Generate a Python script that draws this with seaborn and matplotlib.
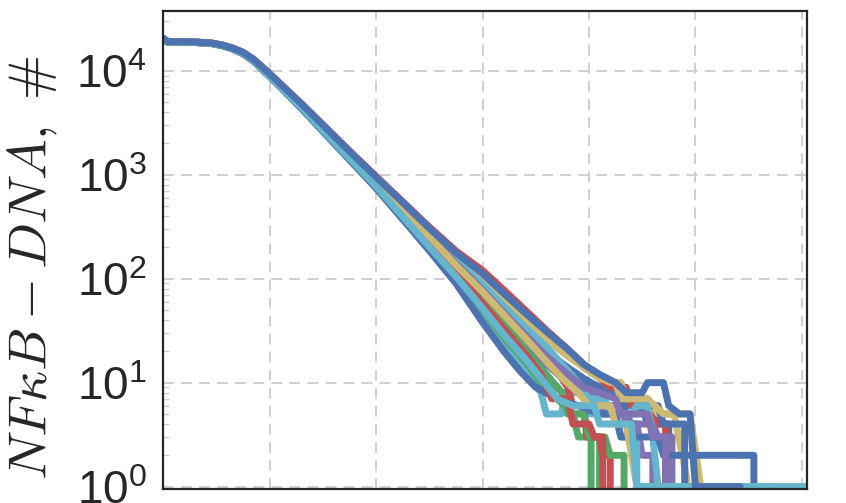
import matplotlib
matplotlib.use("Agg")
import matplotlib.pyplot as plt
import matplotlib.ticker as ticker
import seaborn as sns
import pandas as pd

# shared time points for the smooth (high count) part of every run
t_head = [0.0, 0.04, 0.3, 0.45, 0.55, 0.65, 0.75, 0.85, 1.0, 1.15, 1.3, 1.5, 1.75, 2.0, 2.25, 2.5]

# counts per run on t_head
heads = [
    [20500, 19100, 18800, 18400, 17640, 16460, 14880, 12690, 9190, 6540, 4650, 2890, 1600, 886, 486, 266],
    [20300, 18900, 18700, 18300, 17530, 16290, 14640, 12430, 8910, 6280, 4410, 2690, 1460, 782, 403, 208],
    [20400, 19000, 18900, 18500, 17710, 16570, 15050, 12860, 9390, 6720, 4810, 3030, 1700, 964, 551, 314],
    [20400, 19000, 18800, 18400, 17580, 16360, 14750, 12540, 9040, 6390, 4520, 2770, 1520, 827, 438, 232],
    [20500, 19100, 18900, 18450, 17660, 16490, 14940, 12750, 9260, 6600, 4700, 2940, 1630, 911, 507, 281],
    [20300, 18900, 18700, 18300, 17490, 16230, 14560, 12340, 8820, 6190, 4340, 2620, 1410, 750, 379, 191],
    [20400, 19000, 18800, 18400, 17610, 16420, 14830, 12630, 9130, 6480, 4600, 2840, 1570, 862, 467, 252],
    [20300, 18900, 18700, 18300, 17500, 16250, 14580, 12370, 8850, 6220, 4360, 2640, 1430, 761, 387, 197],
    [20400, 19000, 18800, 18400, 17620, 16440, 14850, 12660, 9160, 6510, 4620, 2870, 1580, 874, 476, 259],
    [20400, 19000, 18800, 18400, 17600, 16400, 14800, 12600, 9100, 6450, 4570, 2820, 1550, 850, 457, 245],
    [20500, 19100, 18900, 18500, 17690, 16530, 15000, 12800, 9320, 6660, 4760, 2980, 1670, 937, 529, 297],
    [20400, 19000, 18850, 18450, 17650, 16480, 14910, 12720, 9230, 6570, 4680, 2910, 1620, 898, 496, 274],
    [20300, 18900, 18700, 18300, 17480, 16210, 14530, 12310, 8790, 6160, 4310, 2600, 1390, 740, 372, 186],
    [20400, 19000, 18800, 18350, 17560, 16340, 14720, 12510, 9010, 6360, 4490, 2750, 1500, 815, 429, 225],
    [20300, 18900, 18750, 18350, 17540, 16310, 14680, 12460, 8940, 6300, 4440, 2710, 1470, 793, 412, 213],
    [20400, 19000, 18800, 18400, 17620, 16440, 14850, 12660, 9170, 6500, 4630, 2860, 1585, 870, 480, 262],
    [20400, 19000, 18800, 18400, 17610, 16420, 14830, 12630, 9120, 6490, 4600, 2845, 1565, 865, 470, 255],
    [20300, 18900, 18700, 18300, 17520, 16270, 14600, 12400, 8880, 6240, 4390, 2660, 1440, 771, 395, 202],
    [20500, 19100, 18900, 18500, 17700, 16550, 15020, 12830, 9350, 6690, 4790, 3010, 1680, 950, 540, 305],
]

# noisy low-count tails, (time, count) per run
tails = [
    [(2.75, 145), (3.0, 82), (3.2, 50), (3.4, 31), (3.6, 20), (3.8, 14), (3.95, 11), (4.1, 9),
     (4.25, 8), (4.3, 6), (4.5, 6), (4.55, 4), (4.75, 4), (4.8, 0)],
    [(2.75, 110), (3.0, 55), (3.2, 31), (3.4, 18), (3.6, 11), (3.75, 8), (3.8, 5), (3.95, 5),
     (4.0, 3), (4.1, 3), (4.15, 0)],
    [(2.75, 185), (3.0, 120), (3.2, 78), (3.4, 50), (3.6, 32), (3.8, 21), (3.95, 15), (4.1, 11),
     (4.2, 9), (4.35, 9), (4.4, 6), (4.6, 6), (4.65, 4), (4.72, 4), (4.76, 0)],
    [(2.75, 130), (3.0, 70), (3.2, 42), (3.4, 25), (3.6, 15), (3.8, 10), (3.9, 8), (4.05, 8),
     (4.1, 6), (4.3, 6), (4.35, 4), (4.45, 4), (4.5, 2), (4.6, 2), (4.63, 0)],
    [(2.75, 160), (3.0, 98), (3.2, 62), (3.4, 40), (3.6, 26), (3.8, 18), (4.0, 13), (4.2, 10),
     (4.3, 10), (4.35, 7), (4.55, 7), (4.65, 5), (4.8, 5), (4.92, 1.2), (4.95, 0)],
    [(2.75, 95), (3.0, 45), (3.2, 23), (3.4, 13), (3.55, 8), (3.6, 5), (3.74, 5), (3.78, 8),
     (3.95, 8), (4.0, 5), (4.25, 5), (4.3, 3), (4.45, 3), (4.5, 0)],
    [(2.75, 135), (3.0, 76), (3.2, 46), (3.4, 28), (3.6, 18), (3.8, 12), (4.0, 9), (4.15, 8),
     (4.3, 7), (4.35, 5), (4.45, 5), (4.5, 6), (4.65, 6), (4.7, 4), (4.9, 4), (4.95, 0)],
    [(2.75, 100), (3.0, 50), (3.2, 27), (3.4, 16), (3.55, 10), (3.7, 7), (3.85, 5), (3.9, 3),
     (4.02, 3), (4.05, 0)],
    [(2.75, 140), (3.0, 78), (3.2, 47), (3.4, 29), (3.55, 20), (3.7, 13), (3.8, 9), (3.85, 6),
     (3.95, 6), (3.98, 3), (4.1, 3), (4.13, 2), (4.2, 2), (4.25, 0)],
    [(2.75, 132), (3.0, 73), (3.2, 43), (3.4, 26), (3.6, 16), (3.75, 11), (3.9, 8), (4.1, 7),
     (4.15, 5), (4.35, 5), (4.4, 4), (4.6, 4), (4.65, 3), (4.78, 3), (4.82, 0)],
    [(2.75, 170), (3.0, 105), (3.2, 68), (3.4, 44), (3.6, 29), (3.8, 19), (3.95, 14), (4.1, 11),
     (4.25, 10), (4.3, 7), (4.55, 7), (4.7, 5), (4.95, 5), (5.05, 1), (5.6, 1), (5.63, 0)],
    [(2.75, 150), (3.0, 88), (3.2, 54), (3.4, 34), (3.6, 22), (3.75, 15), (3.9, 10), (4.0, 7),
     (4.15, 7), (4.2, 5), (4.4, 5), (4.45, 6), (4.55, 6), (4.6, 3), (4.65, 1), (4.8, 1), (4.85, 0)],
    [(2.75, 90), (3.0, 38), (3.2, 20), (3.35, 13), (3.5, 9), (3.7, 7), (3.9, 6), (4.1, 5),
     (4.25, 5), (4.3, 3), (4.65, 3), (4.7, 2), (5.55, 2), (5.6, 0)],
    [(2.75, 125), (3.0, 66), (3.2, 37), (3.4, 21), (3.6, 12), (3.75, 8), (3.8, 5), (3.95, 5),
     (4.0, 3), (4.15, 3), (4.2, 2), (4.33, 2), (4.36, 0)],
    [(2.75, 115), (3.0, 58), (3.2, 33), (3.4, 19), (3.55, 12), (3.65, 7), (3.8, 7), (3.85, 4),
     (4.0, 4), (4.05, 3), (4.13, 3), (4.16, 0)],
    [(2.75, 140), (3.0, 78), (3.2, 47), (3.4, 29), (3.6, 18), (3.8, 12), (3.95, 9), (4.1, 8),
     (4.25, 7), (4.3, 5), (4.55, 5), (4.6, 3), (4.72, 3), (4.75, 0)],
    [(2.75, 135), (3.0, 75), (3.2, 45), (3.4, 27), (3.6, 16), (3.75, 11), (3.9, 8), (4.0, 6),
     (4.2, 6), (4.25, 4), (4.35, 4), (4.4, 2), (4.45, 1), (5.75, 1), (5.78, 0)],
    [(2.75, 105), (3.0, 52), (3.2, 29), (3.4, 17), (3.55, 11), (3.7, 7), (3.85, 6), (4.05, 6),
     (4.1, 4), (4.4, 4), (4.45, 1), (6.05, 1)],
    [(2.75, 178), (3.0, 112), (3.2, 72), (3.4, 47), (3.6, 31), (3.8, 21), (3.95, 15), (4.1, 12),
     (4.25, 10), (4.35, 8), (4.5, 8), (4.55, 10), (4.7, 10), (4.75, 6), (4.85, 5), (4.95, 5),
     (5.0, 1), (5.42, 1), (5.45, 0)],
]

rows = []
for run, (head, tail) in enumerate(zip(heads, tails)):
    for t, n in zip(t_head, head):
        rows.append((run, t, n))
    for t, n in tail:
        rows.append((run, t, n))
df = pd.DataFrame(rows, columns=["run", "t", "n"])

sns.set_theme(style="white")
plt.rcParams["font.family"] = ["Liberation Sans", "DejaVu Sans"]
plt.rcParams["mathtext.fontset"] = "cm"

deep = sns.color_palette("deep6")
palette = [deep[i % 6] for i in range(len(heads))]

fig, ax = plt.subplots(figsize=(8.46, 5.03), dpi=100)
fig.subplots_adjust(left=0.193, right=0.954, top=0.978, bottom=0.028)

sns.lineplot(data=df, x="t", y="n", hue="run", palette=palette, estimator=None,
             sort=False, legend=False, linewidth=5, ax=ax)

ax.set_yscale("log")
ax.set_ylim(0.95, 3.75e4)
ax.set_xlim(0, 6.05)
ax.xaxis.set_major_locator(ticker.MultipleLocator(1))
ax.set_xticklabels([])
ax.set_xlabel("")

ax.grid(True, which="major", color="#cccccc", lw=1.3, ls=(0, (6, 4)))
ax.tick_params(axis="y", which="major", length=0, labelsize=33, pad=12)
ax.tick_params(axis="y", which="minor", left=True, direction="in", length=4,
               color="#cccccc", width=1)
ax.tick_params(axis="x", length=0)

for s in ax.spines.values():
    s.set_color("#262626")
    s.set_linewidth(1.6)

ax.set_ylabel(r"$NF\kappa B - DNA,\ \#$", fontsize=39)
ax.yaxis.set_label_coords(-0.16, 0.464)

fig.savefig("out.png", dpi=100)
